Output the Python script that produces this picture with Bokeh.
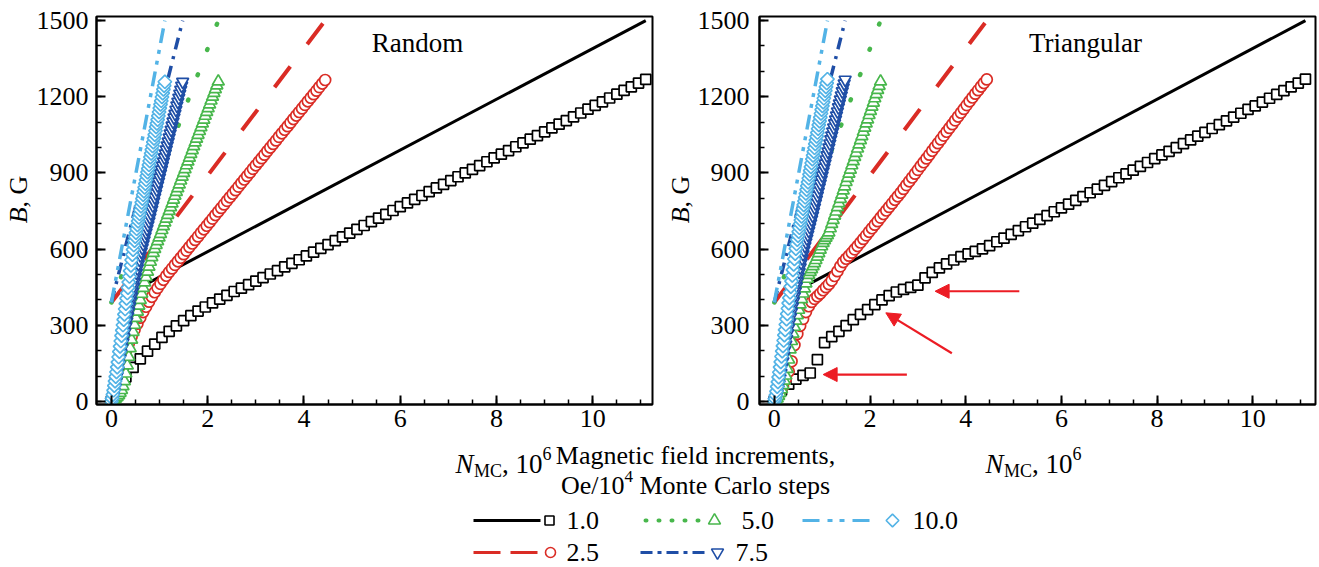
import math
from bokeh.plotting import figure
from bokeh.layouts import column, row
from bokeh.models import Range1d, FixedTicker, Label, Arrow, NormalHead, ColumnDataSource
from bokeh.core.properties import value
from bokeh.embed import file_html
from bokeh.resources import INLINE

FONT = "Liberation Serif"

# ---------------- data ----------------
rate_labels = ["1.0", "2.5", "5.0", "7.5", "10.0"]

# N_MC (10^6) sample positions of each series
n_10 = [0.00, 0.15, 0.30, 0.45, 0.60, 0.75, 0.90, 1.05, 1.20, 1.35, 1.50, 1.65, 1.80, 1.95, 2.10,
        2.25, 2.40, 2.55, 2.70, 2.85, 3.00, 3.15, 3.30, 3.45, 3.60, 3.75, 3.90, 4.05, 4.20, 4.35,
        4.50, 4.65, 4.80, 4.95, 5.10, 5.25, 5.40, 5.55, 5.70, 5.85, 6.00, 6.15, 6.30, 6.45, 6.60,
        6.75, 6.90, 7.05, 7.20, 7.35, 7.50, 7.65, 7.80, 7.95, 8.10, 8.25, 8.40, 8.55, 8.70, 8.85,
        9.00, 9.15, 9.30, 9.45, 9.60, 9.75, 9.90, 10.05, 10.20, 10.35, 10.50, 10.65, 10.80, 10.95, 11.10]
n_25 = [0.00, 0.06, 0.12, 0.18, 0.24, 0.30, 0.36, 0.42, 0.48, 0.54, 0.60, 0.66, 0.72, 0.78, 0.84,
        0.90, 0.96, 1.02, 1.08, 1.14, 1.20, 1.26, 1.32, 1.38, 1.44, 1.50, 1.56, 1.62, 1.68, 1.74,
        1.80, 1.86, 1.92, 1.98, 2.04, 2.10, 2.16, 2.22, 2.28, 2.34, 2.40, 2.46, 2.52, 2.58, 2.64,
        2.70, 2.76, 2.82, 2.88, 2.94, 3.00, 3.06, 3.12, 3.18, 3.24, 3.30, 3.36, 3.42, 3.48, 3.54,
        3.60, 3.66, 3.72, 3.78, 3.84, 3.90, 3.96, 4.02, 4.08, 4.14, 4.20, 4.26, 4.32, 4.38, 4.44]
n_50 = [0.00, 0.03, 0.06, 0.09, 0.12, 0.15, 0.18, 0.21, 0.24, 0.27, 0.30, 0.33, 0.36, 0.39, 0.42,
        0.45, 0.48, 0.51, 0.54, 0.57, 0.60, 0.63, 0.66, 0.69, 0.72, 0.75, 0.78, 0.81, 0.84, 0.87,
        0.90, 0.93, 0.96, 0.99, 1.02, 1.05, 1.08, 1.11, 1.14, 1.17, 1.20, 1.23, 1.26, 1.29, 1.32,
        1.35, 1.38, 1.41, 1.44, 1.47, 1.50, 1.53, 1.56, 1.59, 1.62, 1.65, 1.68, 1.71, 1.74, 1.77,
        1.80, 1.83, 1.86, 1.89, 1.92, 1.95, 1.98, 2.01, 2.04, 2.07, 2.10, 2.13, 2.16, 2.19, 2.22]
n_75 = [0.00, 0.02, 0.04, 0.06, 0.08, 0.10, 0.12, 0.14, 0.16, 0.18, 0.20, 0.22, 0.24, 0.26, 0.28,
        0.30, 0.32, 0.34, 0.36, 0.38, 0.40, 0.42, 0.44, 0.46, 0.48, 0.50, 0.52, 0.54, 0.56, 0.58,
        0.60, 0.62, 0.64, 0.66, 0.68, 0.70, 0.72, 0.74, 0.76, 0.78, 0.80, 0.82, 0.84, 0.86, 0.88,
        0.90, 0.92, 0.94, 0.96, 0.98, 1.00, 1.02, 1.04, 1.06, 1.08, 1.10, 1.12, 1.14, 1.16, 1.18,
        1.20, 1.22, 1.24, 1.26, 1.28, 1.30, 1.32, 1.34, 1.36, 1.38, 1.40, 1.42, 1.44, 1.46, 1.48]
n_100 = [0.000, 0.015, 0.030, 0.045, 0.060, 0.075, 0.090, 0.105, 0.120, 0.135, 0.150, 0.165, 0.180,
         0.195, 0.210, 0.225, 0.240, 0.255, 0.270, 0.285, 0.300, 0.315, 0.330, 0.345, 0.360, 0.375,
         0.390, 0.405, 0.420, 0.435, 0.450, 0.465, 0.480, 0.495, 0.510, 0.525, 0.540, 0.555, 0.570,
         0.585, 0.600, 0.615, 0.630, 0.645, 0.660, 0.675, 0.690, 0.705, 0.720, 0.735, 0.750, 0.765,
         0.780, 0.795, 0.810, 0.825, 0.840, 0.855, 0.870, 0.885, 0.900, 0.915, 0.930, 0.945, 0.960,
         0.975, 0.990, 1.005, 1.020, 1.035, 1.050, 1.065, 1.080, 1.095, 1.110]

# ---- Random panel: B, G ----
rnd_b_10 = [0, 55, 97, 134, 168, 198, 226, 252, 276, 298, 318, 338, 356, 372, 388, 403, 418, 433, 446, 460,
            474, 488, 502, 515, 530, 544, 558, 573, 588, 603, 618, 633, 648, 663, 678, 693, 708, 722, 737, 752,
            767, 782, 796, 811, 826, 841, 855, 870, 885, 900, 914, 929, 944, 959, 974, 988, 1003, 1018, 1033, 1047,
            1062, 1077, 1092, 1106, 1121, 1136, 1151, 1166, 1180, 1195, 1210, 1225, 1239, 1254, 1268]
rnd_b_25 = [0, 45, 90, 130, 165, 198, 228, 256, 282, 306, 330, 352, 373, 393, 412, 430, 447, 463, 479, 495,
            510, 524, 538, 552, 566, 580, 594, 608, 622, 636, 650, 664, 678, 692, 706, 720, 734, 748, 762, 776,
            790, 804, 818, 832, 846, 860, 874, 888, 902, 916, 930, 944, 958, 972, 986, 1000, 1014, 1028, 1042, 1056,
            1070, 1084, 1098, 1112, 1126, 1140, 1154, 1168, 1182, 1196, 1210, 1224, 1238, 1252, 1266]
rnd_b_50 = [0, 3, 7, 12, 18, 25, 34, 45, 60, 80, 110, 142, 176, 210, 243, 274, 302, 329, 354, 377,
            400, 424, 447, 469, 490, 511, 531, 550, 568, 585, 601, 616, 631, 646, 660, 675, 690, 705, 720, 735,
            750, 765, 780, 795, 810, 825, 840, 855, 870, 885, 900, 915, 930, 945, 960, 975, 990, 1005, 1020, 1035,
            1050, 1065, 1080, 1095, 1110, 1125, 1140, 1155, 1170, 1185, 1200, 1215, 1230, 1245, 1260]
rnd_b_75 = [0, 8, 20, 36, 55, 77, 100, 122, 145, 168, 190, 211, 232, 253, 274, 295, 315, 335, 355, 375,
            395, 414, 433, 452, 471, 490, 507, 524, 541, 558, 575, 590, 605, 620, 635, 650, 665, 680, 695, 710,
            725, 741, 756, 772, 788, 804, 819, 835, 851, 866, 882, 898, 913, 929, 945, 961, 976, 992, 1008, 1023,
            1039, 1055, 1070, 1086, 1102, 1118, 1133, 1149, 1165, 1180, 1196, 1212, 1227, 1243, 1259]
rnd_b_100 = [0, 12, 27, 44, 62, 80, 98, 116, 135, 155, 175, 196, 217, 238, 259, 280, 301, 322, 343, 364,
             385, 406, 427, 448, 470, 492, 514, 536, 557, 578, 598, 616, 633, 649, 665, 680, 695, 710, 725, 739,
             754, 769, 784, 799, 814, 828, 843, 858, 873, 888, 903, 917, 932, 947, 962, 977, 992, 1006, 1021, 1036,
             1051, 1066, 1081, 1095, 1110, 1125, 1140, 1155, 1170, 1184, 1199, 1214, 1229, 1244, 1259]

# ---- Triangular panel: B, G ----
tri_b_10 = [0, 45, 68, 88, 103, 112, 165, 232, 255, 276, 299, 322, 343, 362, 381, 400, 417, 431, 441, 449,
            458, 487, 508, 526, 542, 557, 570, 581, 591, 601, 614, 629, 643, 658, 673, 688, 702, 717, 732, 747,
            762, 777, 792, 807, 822, 836, 851, 866, 881, 896, 911, 926, 941, 956, 971, 985, 1000, 1015, 1030, 1045,
            1060, 1075, 1090, 1105, 1120, 1135, 1150, 1164, 1179, 1194, 1209, 1224, 1239, 1254, 1269]
tri_b_25 = [0, 15, 35, 60, 88, 118, 158, 222, 266, 298, 325, 352, 375, 392, 404, 414, 425, 438, 450, 462,
            476, 494, 513, 532, 549, 562, 574, 586, 599, 612, 626, 640, 654, 668, 682, 696, 710, 724, 738, 752,
            766, 780, 794, 808, 822, 837, 852, 867, 882, 897, 912, 927, 942, 957, 972, 987, 1002, 1017, 1032, 1047,
            1062, 1077, 1092, 1107, 1122, 1137, 1152, 1167, 1182, 1197, 1212, 1226, 1240, 1254, 1268]
tri_b_50 = [0, 5, 12, 22, 34, 48, 64, 82, 102, 128, 165, 205, 238, 267, 294, 318, 340, 361, 382, 403,
            425, 445, 465, 483, 498, 510, 521, 533, 545, 557, 570, 584, 598, 611, 624, 635, 645, 655, 666, 682,
            699, 715, 732, 748, 765, 781, 798, 814, 831, 847, 864, 880, 897, 913, 930, 946, 963, 979, 996, 1012,
            1029, 1045, 1062, 1078, 1095, 1111, 1128, 1144, 1161, 1177, 1194, 1210, 1227, 1243, 1260]
tri_b_75 = [0, 6, 16, 30, 48, 68, 90, 112, 135, 158, 180, 202, 224, 246, 268, 290, 311, 332, 353, 374,
            394, 414, 434, 454, 473, 492, 510, 528, 546, 563, 580, 596, 612, 627, 642, 657, 672, 687, 702, 717,
            732, 748, 764, 780, 795, 811, 827, 843, 858, 874, 890, 906, 921, 937, 953, 969, 984, 1000, 1016, 1032,
            1047, 1063, 1079, 1095, 1110, 1126, 1142, 1158, 1173, 1189, 1205, 1221, 1236, 1252, 1267]
tri_b_100 = [0, 10, 24, 40, 58, 77, 96, 115, 135, 156, 177, 198, 219, 240, 261, 282, 303, 324, 345, 366,
             387, 408, 430, 452, 474, 496, 518, 540, 561, 582, 602, 620, 637, 653, 669, 684, 699, 714, 729, 744,
             759, 774, 789, 804, 819, 834, 849, 864, 879, 894, 909, 924, 939, 954, 969, 984, 999, 1014, 1029, 1044,
             1059, 1074, 1089, 1104, 1119, 1134, 1149, 1164, 1179, 1194, 1209, 1224, 1239, 1254, 1269]

# applied-field lines (visible start and end points)
line_n_10 = [0.75, 11.10]
line_b_10 = [465, 1500]
line_n_25 = [0.0, 4.44]
line_n_50 = [0.0, 2.22]
line_n_75 = [0.0, 1.48]
line_n_100 = [0.0, 1.11]
line_b = [390, 1500]

# arrows in the triangular panel (tail -> head)
arrow_tail_n = [2.77, 3.71, 5.12]
arrow_tail_b = [106, 190, 434]
arrow_head_n = [1.02, 2.33, 3.36]
arrow_head_b = [106, 349, 434]

x_major = [0, 2, 4, 6, 8, 10]
x_minor = [0.5 * k for k in range(0, 23)]
y_major = [0, 300, 600, 900, 1200, 1500]
y_minor = [100 * k for k in range(0, 16)]

# ---------------- styles ----------------
C_BLACK = "#000000"
C_RED = "#da2c25"
C_GREEN = "#48b74c"
C_BLUE = "#1f4ea6"
C_LBLUE = "#53b3e6"
C_ARROW = "#ec1c24"

series = [
    dict(n=n_10, rnd=rnd_b_10, tri=tri_b_10, ln=line_n_10, lb=line_b_10, color=C_BLACK, marker="square",
         size=10, angle=0, dash="solid", lw=3.0, cap="butt", leg_dash="solid", leg_size=9),
    dict(n=n_25, rnd=rnd_b_25, tri=tri_b_25, ln=line_n_25, lb=line_b, color=C_RED, marker="circle", size=11,
         angle=0, dash="26 28", lw=4.0, cap="butt", leg_dash="27 10", leg_size=10),
    dict(n=n_50, rnd=rnd_b_50, tri=tri_b_50, ln=line_n_50, lb=line_b, color=C_GREEN, marker="triangle",
         size=12, angle=0, dash="1 26", lw=4.5, cap="round", leg_dash="1 12", leg_size=12),
    dict(n=n_75, rnd=rnd_b_75, tri=tri_b_75, ln=line_n_75, lb=line_b, color=C_BLUE,
         marker="inverted_triangle", size=12, angle=0, dash="12 7 3 7", lw=3.5, cap="butt",
         leg_dash="12 5 4 5", leg_size=12),
    dict(n=n_100, rnd=rnd_b_100, tri=tri_b_100, ln=line_n_100, lb=line_b, color=C_LBLUE, marker="square",
         size=9.5, angle=math.pi / 4, dash="15 7 4 7 4 7", lw=3.5, cap="butt", leg_dash="17 8 5 7 5 8",
         leg_size=9),
]

TOP_H = 438
BOT_H = 567 - TOP_H


def clean(f):
    f.outline_line_color = None
    f.background_fill_color = "white"
    f.border_fill_color = "white"
    f.grid.visible = False
    return f


def make_panel(width, bl, br, x_end, key, title, title_x, title_y, y_standoff):
    p = figure(width=width, height=TOP_H, x_range=Range1d(-0.31, x_end), y_range=Range1d(-12, 1516),
               output_backend="svg", toolbar_location=None,
               min_border_left=bl, min_border_right=br, min_border_top=16, min_border_bottom=34)
    p.xgrid.visible = False
    p.ygrid.visible = False
    p.background_fill_color = "white"
    p.border_fill_color = "white"
    p.outline_line_color = "black"
    p.outline_line_width = 2
    p.outline_line_alpha = 1.0
    p.xaxis.ticker = FixedTicker(ticks=x_major, minor_ticks=x_minor)
    p.yaxis.ticker = FixedTicker(ticks=y_major, minor_ticks=y_minor)
    for ax in (p.xaxis[0], p.yaxis[0]):
        ax.axis_line_width = 2
        ax.axis_line_color = "black"
        ax.major_tick_in = 9
        ax.major_tick_out = 0
        ax.minor_tick_in = 5
        ax.minor_tick_out = 0
        ax.major_tick_line_width = 2
        ax.minor_tick_line_width = 1.5
        ax.major_tick_line_color = "black"
        ax.minor_tick_line_color = "black"
        ax.major_label_text_font = FONT
        ax.major_label_text_font_size = "26px"
        ax.major_label_text_color = "black"
    p.xaxis.major_label_standoff = 5
    p.yaxis.major_label_standoff = y_standoff

    for s in series:
        p.line(s["ln"], s["lb"], line_color=s["color"], line_width=s["lw"], line_dash=s["dash"],
               line_cap=s["cap"])
    for s in series:
        xs, ys = s["n"], s[key]
        m = min(len(xs), len(ys))
        p.scatter(xs[:m], ys[:m], marker=s["marker"], size=s["size"], angle=s["angle"],
                  fill_color="white", line_color=s["color"], line_width=1.7)

    p.add_layout(Label(x=title_x, y=title_y, text=title, text_font=FONT, text_font_size="27px",
                       text_baseline="middle", text_align="left", text_color="black"))
    return p


def make_ylabel(width, cx):
    f = figure(width=width, height=TOP_H, x_range=Range1d(0, width), y_range=Range1d(TOP_H, 0),
               output_backend="svg", toolbar_location=None, min_border=0,
               x_axis_type=None, y_axis_type=None)
    clean(f)
    f.text(x=[cx], y=[215.5], text=["B"], angle=math.pi / 2, text_align="right", text_baseline="middle",
           text_font=value(FONT), text_font_style="italic", text_font_size=value("26px"), text_color="black")
    f.text(x=[cx], y=[215.5], text=[", G"], angle=math.pi / 2, text_align="left", text_baseline="middle",
           text_font=value(FONT), text_font_size=value("26px"), text_color="black")
    return f


# left: label strip 0-33, panel 33-665 (frame 93-652); right: strip 665-694, panel 694-1319 (frame 756-1315)
yl1 = make_ylabel(33, 18)
p1 = make_panel(632, 60, 13, 11.24, "rnd", "Random", 5.41, 1413, 8)
yl2 = make_ylabel(29, 14.5)
p2 = make_panel(625, 62, 4, 11.31, "tri", "Triangular", 5.32, 1410, 10)

arrow_src = ColumnDataSource(dict(x0=arrow_tail_n, y0=arrow_tail_b, x1=arrow_head_n, y1=arrow_head_b))
p2.add_layout(Arrow(end=NormalHead(size=14, fill_color=C_ARROW, line_color=C_ARROW, line_width=1),
                    x_start="x0", y_start="y0", x_end="x1", y_end="y1", source=arrow_src,
                    line_color=C_ARROW, line_width=2.2))

# ---------------- bottom: axis titles + legend ----------------
lg = figure(width=1319, height=BOT_H, x_range=Range1d(0, 1319), y_range=Range1d(567, TOP_H),
            output_backend="svg", toolbar_location=None, min_border=0,
            x_axis_type=None, y_axis_type=None)
clean(lg)

BIG = value("27px")
SMALL = value("18px")
for x0 in (455, 985):
    lg.text(x=[x0], y=[463], text=["N"], text_font=value(FONT), text_font_size=BIG,
            text_font_style="italic", text_baseline="middle", text_color="black")
    lg.text(x=[x0 + 18.5], y=[470], text=["MC"], text_font=value(FONT), text_font_size=SMALL,
            text_baseline="middle", text_color="black")
    lg.text(x=[x0 + 46.5], y=[463], text=[", 10"], text_font=value(FONT), text_font_size=BIG,
            text_baseline="middle", text_color="black")
    lg.text(x=[x0 + 87], y=[453], text=["6"], text_font=value(FONT), text_font_size=SMALL,
            text_baseline="middle", text_color="black")

LEG = value("26px")
lg.text(x=[695], y=[455], text=["Magnetic field increments,"], text_font=value(FONT), text_font_size=LEG,
        text_align="center", text_baseline="middle", text_color="black")
lg.text(x=[560.5], y=[485], text=["Oe/10"], text_font=value(FONT), text_font_size=LEG,
        text_baseline="middle", text_color="black")
lg.text(x=[624], y=[476], text=["4"], text_font=value(FONT), text_font_size=value("17px"),
        text_baseline="middle", text_color="black")
lg.text(x=[639], y=[485], text=["Monte Carlo steps"], text_font=value(FONT), text_font_size=LEG,
        text_baseline="middle", text_color="black")

# legend entries: (line x0, line x1, row y, marker x, text x)
leg_pos = [(473, 540, 520, 549, 566), (473, 540, 552, 550, 566), (645, 700, 520, 714, 741),
           (640, 705, 552, 717, 735), (802, 875, 520, 892, 912)]
for s, lab, (lx0, lx1, ly, mx, tx) in zip(series, rate_labels, leg_pos):
    lg.line([lx0, lx1], [ly, ly], line_color=s["color"], line_width=3.2 if s["cap"] == "butt" else 4,
            line_dash=s["leg_dash"], line_cap=s["cap"])
    lg.scatter([mx], [ly], marker=s["marker"], size=s["leg_size"], angle=s["angle"], fill_color="white",
               line_color=s["color"], line_width=1.6)
    lg.text(x=[tx], y=[ly], text=[lab], text_font=value(FONT), text_font_size=LEG,
            text_baseline="middle", text_color="black")

layout = column(row(yl1, p1, yl2, p2), lg)
open("out.html", "w").write(file_html(layout, INLINE))
